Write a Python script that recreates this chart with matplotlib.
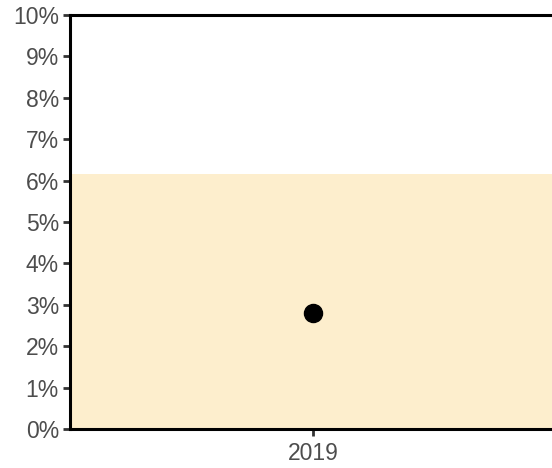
import matplotlib
matplotlib.use("Agg")
import matplotlib.pyplot as plt
from matplotlib.ticker import FuncFormatter

# data
years = ["2019"]
rates = [2.8]           # percent
band_low = 0.0
band_high = 6.15        # percent, shaded reference band
y_ticks = list(range(0, 11))

plt.rcParams["font.family"] = ["Liberation Sans", "DejaVu Sans"]

fig = plt.figure(figsize=(5.52, 4.68), dpi=100)
ax = fig.add_axes([70 / 552, 39 / 468, (556 - 70) / 552, (429 - 15) / 468])

ax.axhspan(band_low, band_high, color="#fdeecd", lw=0, zorder=0)
ax.plot(range(len(years)), rates, "o", color="black", markersize=13, zorder=3)

ax.set_xlim(-0.5, len(years) - 0.5)
ax.set_xticks(range(len(years)))
ax.set_xticklabels(years)
ax.set_ylim(0, 10)
ax.set_yticks(y_ticks)
ax.yaxis.set_major_formatter(FuncFormatter(lambda v, _: f"{v:.0f}%"))

for side in ["left", "bottom", "top"]:
    ax.spines[side].set_linewidth(2.2)
    ax.spines[side].set_color("black")
ax.spines["right"].set_visible(False)

ax.tick_params(axis="both", length=5, width=2, color="#333333",
               labelcolor="#4d4d4d", labelsize=16.5, pad=3)
ax.tick_params(axis="x", pad=4)

fig.savefig("out.png", dpi=100)
